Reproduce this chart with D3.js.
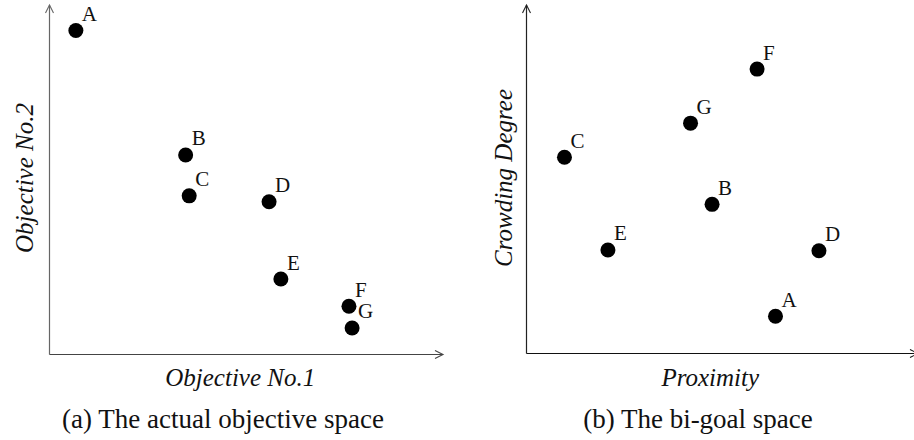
<!DOCTYPE html>
<html>
<head>
<meta charset="utf-8">
<script src="https://cdn.jsdelivr.net/npm/d3@7"></script>
<style>
  html, body { margin: 0; padding: 0; background: #fff; }
  svg { display: block; }
  text { font-family: "Liberation Serif", "DejaVu Serif", "Noto Serif", serif; fill: #111; }
</style>
</head>
<body>
<svg id="chart" width="914" height="440"></svg>
<script>
// Solutions A–G
const pointLabels = ["A", "B", "C", "D", "E", "F", "G"];

// (a) actual objective space
const objective1 = [6.7, 34.6, 35.5, 55.8, 58.8, 76.1, 76.9];
const objective2 = [92.7, 57.1, 45.4, 43.7, 21.6, 13.8, 7.6];

// (b) bi-goal space
const proximity = [63.6, 47.4, 9.7, 74.7, 20.8, 58.9, 41.9];
const crowding  = [10.7, 42.8, 56.3, 29.5, 29.7, 81.6, 66.1];

const panelTitles = {
  a: { x: "Objective No.1", y: "Objective No.2", caption: "(a) The actual objective space" },
  b: { x: "Proximity", y: "Crowding Degree", caption: "(b) The bi-goal space" }
};

const svg = d3.select("#chart");

function drawPanel(cfg) {
  const g = svg.append("g");
  const x = d3.scaleLinear().domain([0, 100]).range([cfg.left, cfg.right]);
  const y = d3.scaleLinear().domain([0, 100]).range([cfg.bottom, cfg.top]);

  // axes with open arrowheads
  g.append("line")
    .attr("x1", x(0)).attr("y1", y(0)).attr("x2", x(0)).attr("y2", y(100))
    .attr("stroke", cfg.yAxisColor).attr("stroke-width", 1.2);
  g.append("path")
    .attr("d", `M${x(0) - 4},${y(100) + 8} L${x(0)},${y(100)} L${x(0) + 4},${y(100) + 8}`)
    .attr("fill", "none").attr("stroke", cfg.yAxisColor).attr("stroke-width", 1.1);

  g.append("line")
    .attr("x1", x(0)).attr("y1", y(0)).attr("x2", x(100)).attr("y2", y(0))
    .attr("stroke", cfg.xAxisColor).attr("stroke-width", 1.2);
  g.append("path")
    .attr("d", `M${x(100) - 8},${y(0) - 4} L${x(100)},${y(0)} L${x(100) - 8},${y(0) + 4}`)
    .attr("fill", "none").attr("stroke", cfg.xAxisColor).attr("stroke-width", 1.1);

  const pts = pointLabels.map((k, i) => ({ k, vx: cfg.xs[i], vy: cfg.ys[i] }));

  g.selectAll("circle.pt").data(pts).join("circle")
    .attr("class", "pt")
    .attr("cx", d => x(d.vx)).attr("cy", d => y(d.vy))
    .attr("r", 7.5).attr("fill", "#000");

  g.selectAll("text.lbl").data(pts).join("text")
    .attr("class", "lbl")
    .attr("x", d => x(d.vx) + 6).attr("y", d => y(d.vy) - 9.5)
    .attr("font-size", 21)
    .text(d => d.k);

  // axis titles
  g.append("text")
    .attr("x", (cfg.left + cfg.right) / 2 + cfg.xTitleShift).attr("y", 386)
    .attr("text-anchor", "middle").attr("font-size", 25).attr("font-style", "italic")
    .attr("fill", "#333")
    .text(cfg.titles.x);
  g.append("text")
    .attr("transform", `translate(${cfg.yTitleX},${cfg.yTitleY}) rotate(-90)`)
    .attr("text-anchor", "middle").attr("font-size", 25).attr("font-style", "italic")
    .attr("fill", "#333")
    .text(cfg.titles.y);

  // caption
  g.append("text")
    .attr("x", cfg.captionX).attr("y", 428)
    .attr("text-anchor", "middle").attr("font-size", 27)
    .text(cfg.titles.caption);
}

drawPanel({
  left: 49.5, right: 443, bottom: 354.5, top: 5,
  xs: objective1, ys: objective2,
  titles: panelTitles.a,
  xAxisColor: "#444", yAxisColor: "#666",
  xTitleShift: -6, yTitleX: 33, yTitleY: 178,
  captionX: 223
});

drawPanel({
  left: 526.5, right: 918, bottom: 353.5, top: 5,
  xs: proximity, ys: crowding,
  titles: panelTitles.b,
  xAxisColor: "#111", yAxisColor: "#222",
  xTitleShift: -12, yTitleX: 512, yTitleY: 178,
  captionX: 698
});
</script>
</body>
</html>
